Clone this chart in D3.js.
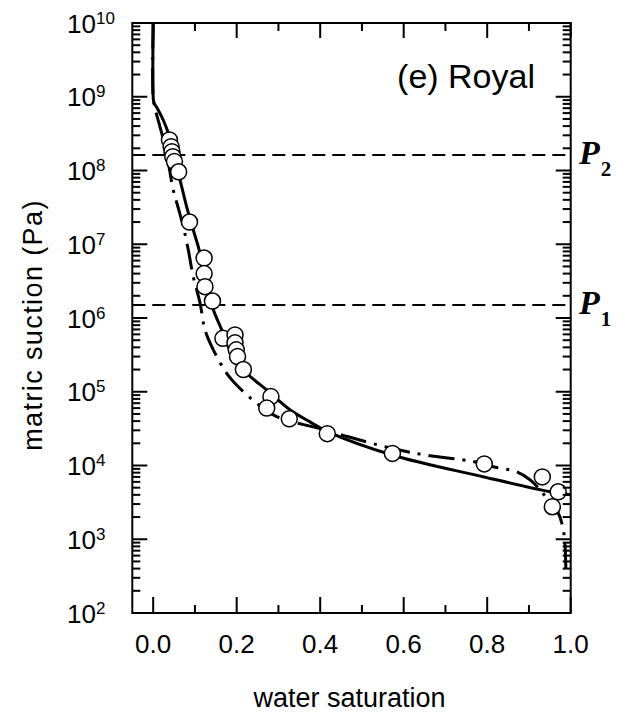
<!DOCTYPE html>
<html>
<head>
<meta charset="utf-8">
<script src="https://cdn.jsdelivr.net/npm/d3@7/dist/d3.min.js"></script>
<style>
  body { margin: 0; background: #fff; }
  svg text { font-family: "Liberation Sans", Arial, sans-serif; fill: #000; }
</style>
</head>
<body>
<svg id="chart" width="620" height="715"></svg>
<script>
// measured points (open circles)
const measuredS = [0.039, 0.043, 0.045, 0.047, 0.051, 0.061, 0.087, 0.122, 0.122, 0.124, 0.142,
                   0.167, 0.196, 0.196, 0.199, 0.202, 0.216, 0.282, 0.272, 0.326, 0.417, 0.573,
                   0.793, 0.932, 0.970, 0.956];
const measuredSuction = [2.6e8, 2.1e8, 1.8e8, 1.54e8, 1.32e8, 9.6e7, 2.0e7, 6.5e6, 4.0e6, 2.66e6, 1.7e6,
                         5.3e5, 5.9e5, 4.6e5, 3.7e5, 3.0e5, 2.0e5, 8.6e4, 6.0e4, 4.3e4, 2.7e4, 1.46e4,
                         1.05e4, 7.0e3, 4.4e3, 2.76e3];

// solid model curve
const solidS = [0.0, 0.0, 0.002, 0.0097, 0.0243, 0.0362, 0.0499, 0.0643, 0.0803, 0.0961, 0.1122,
                0.1402, 0.1641, 0.1912, 0.224, 0.2719, 0.3277, 0.3756, 0.4163, 0.572, 0.7924,
                0.9505, 0.998];
const solidSuction = [1e10, 1e9, 8.2e8, 7.0e8, 4.8e8, 3.2e8, 1.39e8, 7.4e7, 3.2e7, 1.56e7, 7.6e6,
                      1.5e6, 6.9e5, 3.0e5, 1.78e5, 1.06e5, 5.7e4, 3.9e4, 2.9e4, 1.39e4, 7.0e3,
                      4.4e3, 4.0e3];

// dash-dot model curve
const dashDotS = [0.0, 0.0, 0.0044, 0.0163, 0.0307, 0.0482, 0.0602, 0.0721, 0.0841, 0.0961, 0.1122,
                  0.1241, 0.144, 0.1761, 0.2039, 0.2479, 0.2959, 0.3677, 0.4156, 0.4673, 0.5713,
                  0.6511, 0.7667, 0.8146, 0.8707, 0.9025, 0.9265, 0.9456, 0.9696, 0.9815, 0.9863,
                  0.9887];
const dashDotSuction = [1e10, 1e9, 7.0e8, 3.9e8, 1.9e8, 5.4e7, 3.1e7, 1.73e7, 8.4e6, 3.6e6, 1.6e6,
                        6.9e5, 3.7e5, 1.78e5, 1.17e5, 7.0e4, 4.6e4, 3.5e4, 3.0e4, 2.45e4, 1.71e4,
                        1.39e4, 1.13e4, 9.6e3, 8.2e3, 6.4e3, 4.7e3, 3.4e3, 2.3e3, 1.42e3, 8.4e2,
                        3.1e2];

// reference pressure levels
const pLevels = [1.5e6, 1.62e8];
const pSubscripts = ["1", "2"];

// axis ticks
const xTicks = [0.0, 0.2, 0.4, 0.6, 0.8, 1.0];
const xMinorTicks = [0.1, 0.3, 0.5, 0.7, 0.9];
const yExponents = [2, 3, 4, 5, 6, 7, 8, 9, 10];
const yMinorMultipliers = [2, 3, 4, 5, 6, 7, 8, 9];

const svg = d3.select("#chart");
const margin = { left: 132.3, top: 23, right: 49.3, bottom: 102 };
const W = +svg.attr("width"), H = +svg.attr("height");
const x0 = margin.left, x1 = W - margin.right, y0 = margin.top, y1 = H - margin.bottom;

const x = d3.scaleLinear().domain([-0.05, 1.0]).range([x0, x1]);
const y = d3.scaleLog().domain([1e2, 1e10]).range([y1, y0]);

const yMajor = yExponents.map(e => Math.pow(10, e));
const yMinor = yExponents.slice(0, -1).flatMap(e => yMinorMultipliers.map(m => m * Math.pow(10, e)));

const g = svg.append("g");

// dashed reference lines
g.selectAll(".plevel")
    .data(pLevels)
    .enter()
    .append("line")
    .attr("x1", x0).attr("x2", x1)
    .attr("y1", d => y(d)).attr("y2", d => y(d))
    .attr("stroke", "#000")
    .attr("stroke-width", 2)
    .attr("stroke-dasharray", "13,7");

const lineSmooth = d3.line().x(d => x(d[0])).y(d => y(d[1])).curve(d3.curveCatmullRom.alpha(0.5));

g.append("path")
    .datum(dashDotS.map((s, i) => [s, dashDotSuction[i]]))
    .attr("d", lineSmooth)
    .attr("fill", "none")
    .attr("stroke", "#000")
    .attr("stroke-width", 3)
    .attr("stroke-dasharray", "26,8,3,8");

g.append("path")
    .datum(solidS.map((s, i) => [s, solidSuction[i]]))
    .attr("d", lineSmooth)
    .attr("fill", "none")
    .attr("stroke", "#000")
    .attr("stroke-width", 3);

// measured circles
g.selectAll(".pt")
    .data(measuredS.map((s, i) => [s, measuredSuction[i]]))
    .enter()
    .append("circle")
    .attr("cx", d => x(d[0]))
    .attr("cy", d => y(d[1]))
    .attr("r", 8)
    .attr("fill", "#fff")
    .attr("stroke", "#000")
    .attr("stroke-width", 1.5);

// ticks, all pointing inward
function hTicks(vals, len, yPos, dir) {
    g.selectAll(null).data(vals).enter().append("line")
        .attr("x1", d => x(d)).attr("x2", d => x(d))
        .attr("y1", yPos).attr("y2", yPos + dir * len)
        .attr("stroke", "#000").attr("stroke-width", 2);
}
function vTicks(vals, len, xPos, dir) {
    g.selectAll(null).data(vals).enter().append("line")
        .attr("y1", d => y(d)).attr("y2", d => y(d))
        .attr("x1", xPos).attr("x2", xPos + dir * len)
        .attr("stroke", "#000").attr("stroke-width", 2);
}
hTicks(xTicks, 16, y1, -1);
hTicks(xMinorTicks, 8, y1, -1);
hTicks(xTicks, 15, y0, 1);
hTicks(xMinorTicks, 8, y0, 1);
vTicks(yMajor, 15, x0, 1);
vTicks(yMinor, 8, x0, 1);
vTicks(yMajor, 15, x1, -1);
vTicks(yMinor, 8, x1, -1);

// frame
g.append("rect")
    .attr("x", x0).attr("y", y0)
    .attr("width", x1 - x0).attr("height", y1 - y0)
    .attr("fill", "none").attr("stroke", "#000").attr("stroke-width", 2);

// x tick labels
g.selectAll(".xl").data(xTicks).enter().append("text")
    .attr("x", d => x(d)).attr("y", y1 + 40)
    .attr("text-anchor", "middle")
    .attr("font-size", 26)
    .text(d => d.toFixed(1));

// y tick labels 10^n
const yl = g.selectAll(".yl").data(yExponents).enter().append("text")
    .attr("x", 67).attr("y", d => y(Math.pow(10, d)) + 9.5)
    .attr("font-size", 26);
yl.append("tspan").text("10");
yl.append("tspan").attr("font-size", 17).attr("dy", -9).text(d => d);

// axis titles
svg.append("text")
    .attr("x", (x0 + x1) / 2 - 2).attr("y", 707)
    .attr("text-anchor", "middle")
    .attr("font-size", 27)
    .text("water saturation");

svg.append("text")
    .attr("transform", `translate(42,${(y0 + y1) / 2 + 7}) rotate(-90)`)
    .attr("text-anchor", "middle")
    .attr("font-size", 27)
    .attr("letter-spacing", 1.4)
    .text("matric suction (Pa)");

// panel label
svg.append("text")
    .attr("x", 535).attr("y", 88)
    .attr("text-anchor", "end")
    .attr("font-size", 34)
    .text("(e) Royal");

// P labels
const pl = svg.selectAll(".pl").data(pLevels).enter().append("text")
    .attr("x", 579).attr("y", d => y(d) + 9)
    .style("font-family", '"Liberation Serif", "Times New Roman", serif')
    .attr("font-weight", "bold");
pl.append("tspan").attr("font-style", "italic").attr("font-size", 34).text("P");
pl.append("tspan").attr("font-size", 21).attr("dy", 12).attr("dx", 1).text((d, i) => pSubscripts[i]);
</script>
</body>
</html>
